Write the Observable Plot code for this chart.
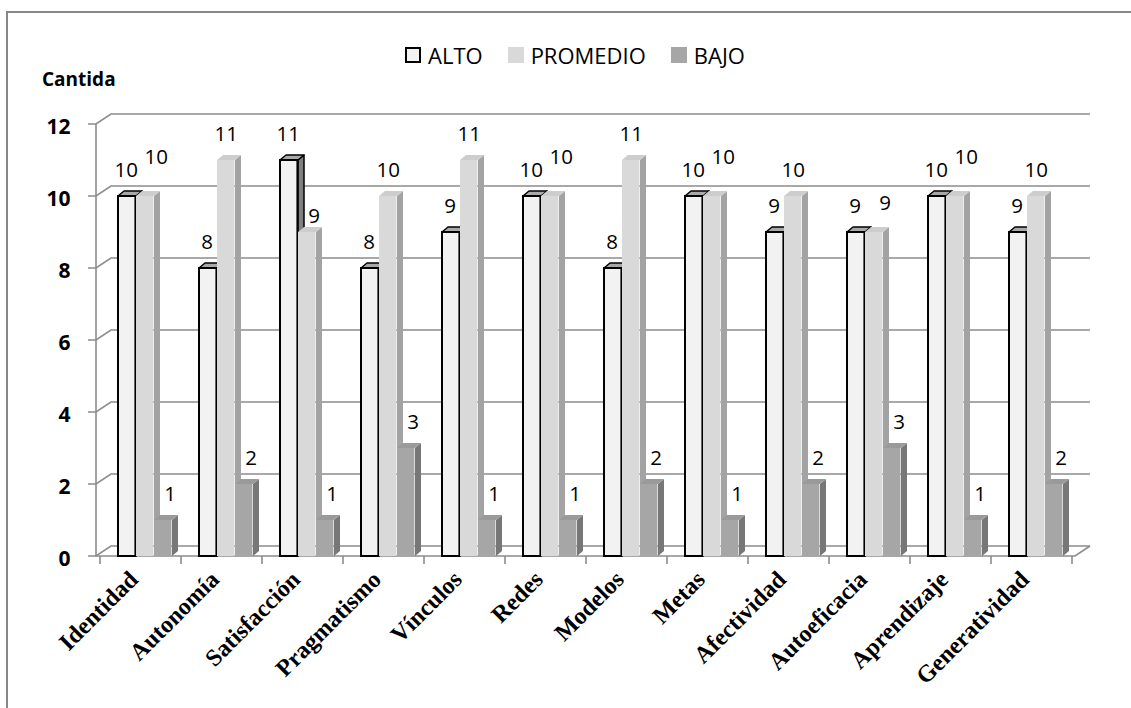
<!DOCTYPE html>
<html>
<head>
<meta charset="utf-8">
<script src="https://cdn.jsdelivr.net/npm/d3@7"></script>
<script src="https://cdn.jsdelivr.net/npm/@observablehq/plot@0.6"></script>
<style>
  body { margin: 0; background: #fff; }
  #chart { position: relative; width: 1131px; height: 708px; overflow: hidden; font-family: "Open Sans", sans-serif; }
  #chart svg { position: absolute; left: 0; top: 0; }
  #frame { position: absolute; left: 6px; top: 11px; width: 1200px; height: 800px;
           border-left: 2px solid #878787; border-top: 2px solid #878787; z-index: 2; }
  #ylabel { position: absolute; left: 42px; top: 66px; font-weight: bold; font-size: 19px; color: #000; z-index: 2; }
  #legend { position: absolute; left: 405px; top: 40px; display: flex; align-items: center; gap: 25px;
            font-size: 22px; color: #000; z-index: 2; }
  #legend .item { display: flex; align-items: center; gap: 7px; }
  #legend .sw { width: 16px; height: 16px; box-sizing: border-box; }
</style>
</head>
<body>
<div id="chart">
  <div id="frame"></div>
  <div id="ylabel">Cantida</div>
  <div id="legend"></div>
</div>
<script>
// Dimensions of the self-perception survey, with counts per level
const categories = ["Identidad", "Autonomía", "Satisfacción", "Pragmatismo", "Vínculos", "Redes",
                    "Modelos", "Metas", "Afectividad", "Autoeficacia", "Aprendizaje", "Generatividad"];
const alto     = [10, 8, 11, 8, 9, 10, 8, 10, 9, 9, 10, 9];
const promedio = [10, 11, 9, 10, 11, 10, 11, 10, 10, 9, 10, 10];
const bajo     = [1, 2, 1, 3, 1, 1, 2, 1, 2, 3, 1, 2];
const seriesNames = ["ALTO", "PROMEDIO", "BAJO"];
const yTicks = [0, 2, 4, 6, 8, 10, 12];

// Layout
const W = 1131, H = 708;
const ML = 96, MR = 56, MT = 124, MB = 152;
const BW = (W - ML - MR) / categories.length;   // band width
const BAR = 18;                                   // front face width of a bar
const BDX = 6, BDY = 5;                           // bar depth
const WDX = 15, WDY = 10;                         // wall depth
const GRID = "#8c8c8c";

const series = [
  {name: seriesNames[0], values: alto,     off: 18, front: "#f2f2f2", top: "#a9a9a9", side: "#7f7f7f", stroke: "#000"},
  {name: seriesNames[1], values: promedio, off: 36, front: "#d9d9d9", top: "#cdcdcd", side: "#a3a3a3", stroke: null},
  {name: seriesNames[2], values: bajo,     off: 54, front: "#a6a6a6", top: "#9a9a9a", side: "#777777", stroke: null}
];

const rows = (values) => categories.map((c, i) => ({cat: c, v: values[i], i}));

// Back wall, left wall, floor and axis ticks
function walls(index, scales, values, dims) {
  const {x, y} = scales;
  const xl = dims.marginLeft, xr = dims.width - dims.marginRight;
  const g = d3.create("svg:g").attr("fill", "none").attr("stroke", GRID).attr("stroke-width", 1.6);
  for (const t of yTicks) {
    const yy = y(t);
    g.append("path").attr("d", `M${xl - 8},${yy}H${xl}L${xl + WDX},${yy - WDY}H${xr + WDX}`);
  }
  const y0 = y(0), yTop = y(d3.max(yTicks));
  g.append("path").attr("d", `M${xl},${yTop}V${y0}H${xr}L${xr + WDX},${y0 - WDY}`);
  const bw = x.bandwidth();
  categories.forEach((c) => {
    g.append("path").attr("d", `M${x(c)},${y0}v8`);
  });
  g.append("path").attr("d", `M${x(categories[categories.length - 1]) + bw},${y0}v8`);
  return g.node();
}

// Top and side faces of one series' columns
function faces(s) {
  return (index, scales) => {
    const {x, y} = scales;
    const g = d3.create("svg:g")
      .attr("stroke", s.stroke || "none")
      .attr("stroke-width", s.stroke ? 1.5 : 0)
      .attr("stroke-linejoin", "round");
    categories.forEach((c, i) => {
      const x0 = x(c) + s.off, x1 = x0 + BAR;
      const yt = y(s.values[i]), yb = y(0);
      g.append("path").attr("fill", s.side)
        .attr("d", `M${x1},${yt}L${x1 + BDX},${yt - BDY}L${x1 + BDX},${yb - BDY}L${x1},${yb}Z`);
      g.append("path").attr("fill", s.top)
        .attr("d", `M${x0},${yt}L${x0 + BDX},${yt - BDY}L${x1 + BDX},${yt - BDY}L${x1},${yt}Z`);
    });
    return g.node();
  };
}

const textStyle = {fontSize: 20.5, fill: "#000", lineAnchor: "bottom", fontFamily: "Open Sans"};
const center = (s) => s.off + BAR / 2 - BW / 2;

const marks = [walls];
for (const s of series) {
  marks.push(faces(s));
  marks.push(Plot.barY(rows(s.values), {
    x: "cat", y: "v", fill: s.front,
    stroke: s.stroke || undefined, strokeWidth: s.stroke ? 2 : undefined,
    insetLeft: s.off, insetRight: BW - s.off - BAR
  }));
}

// Value labels
const [sA, sP, sB] = series;
marks.push(Plot.text(rows(alto), {x: "cat", y: "v", text: "v", dx: center(sA) - 1, dy: -20, ...textStyle}));
marks.push(Plot.text(rows(promedio), {
  filter: (d) => d.v > alto[d.i], x: "cat", y: "v", text: "v", dx: center(sP), dy: -20, ...textStyle
}));
marks.push(Plot.text(rows(promedio), {
  filter: (d) => d.v === alto[d.i] && d.v >= 10, x: "cat", y: "v", text: "v", dx: center(sP) + 11, dy: -33, ...textStyle
}));
marks.push(Plot.text(rows(promedio), {
  filter: (d) => d.v === alto[d.i] && d.v < 10, x: "cat", y: "v", text: "v", dx: center(sP) + 11, dy: -23, ...textStyle
}));
marks.push(Plot.text(rows(promedio), {
  filter: (d) => d.v < alto[d.i], x: "cat", y: "v", text: "v", dx: center(sP) + 7, dy: -10, ...textStyle
}));
marks.push(Plot.text(rows(bajo), {x: "cat", y: "v", text: "v", dx: center(sB) + 7, dy: -20, ...textStyle}));

// Y tick labels
marks.push(Plot.text(yTicks, {
  y: (d) => d, text: (d) => String(d), frameAnchor: "left", dx: -26, dy: 3,
  textAnchor: "end", fontSize: 21, fontWeight: "bold", fill: "#000", fontFamily: "Open Sans"
}));

// Category labels
marks.push(Plot.text(categories, {
  x: (d) => d, text: (d) => d, frameAnchor: "bottom", rotate: -45,
  textAnchor: "end", lineAnchor: "middle", dx: -7, dy: 19,
  fontSize: 24, fontWeight: "bold", fill: "#000", fontFamily: "Liberation Serif"
}));

const chart = Plot.plot({
  width: W, height: H,
  marginLeft: ML, marginRight: MR, marginTop: MT, marginBottom: MB,
  style: {background: "none", fontFamily: "Open Sans"},
  x: {domain: categories, padding: 0, axis: null},
  y: {domain: [0, d3.max(yTicks)], axis: null},
  marks
});
document.getElementById("chart").appendChild(chart);

// Legend
const legend = d3.select("#legend");
for (const s of series) {
  const item = legend.append("div").attr("class", "item");
  item.append("div").attr("class", "sw")
    .style("background", s.front)
    .style("border", s.stroke ? "2px solid #000" : "none");
  item.append("span").text(s.name);
}
</script>
</body>
</html>
